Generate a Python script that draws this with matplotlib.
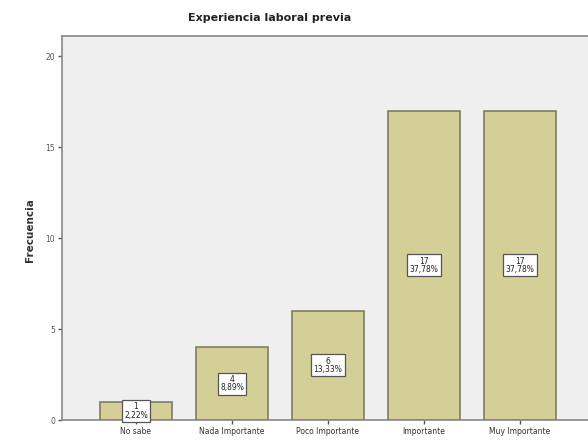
import matplotlib
matplotlib.use("Agg")
import matplotlib.pyplot as plt

categorias = ['No sabe', 'Nada Importante', 'Poco Importante', 'Importante', 'Muy Importante']
frecuencias = [1, 4, 6, 17, 17]
porcentajes = ['2,22%', '8,89%', '13,33%', '37,78%', '37,78%']
yticks = [0, 5, 10, 15, 20]

fig = plt.figure(figsize=(5.88, 4.44), dpi=100)
fig.patch.set_facecolor('white')
ax = fig.add_axes([62/588, 24/444, 532/588, 384/444])
ax.set_facecolor('#efefef')

x = list(range(len(categorias)))
ax.bar(x, frecuencias, width=0.75, color='#d4cf97', edgecolor='#7d7d66', linewidth=1.2, zorder=2)

for xi, f, p in zip(x, frecuencias, porcentajes):
    ax.text(xi, f / 2, f"{f}\n{p}", ha='center', va='center', fontsize=5.5,
            linespacing=0.9, color='#222222', zorder=3,
            bbox=dict(boxstyle='square,pad=0.3', facecolor='white', edgecolor='#555555', linewidth=0.9))

ax.set_xlim(-0.77, 4.77)
ax.set_ylim(0, 21.1)
ax.set_xticks(x)
ax.set_xticklabels(categorias, fontsize=5.5, color='#333333')
ax.set_yticks(yticks)
ax.set_yticklabels([str(t) for t in yticks], fontsize=5.5, color='#555555')
ax.tick_params(axis='both', length=3, width=1, color='#555555', pad=2)

for s in ['left', 'bottom', 'top']:
    ax.spines[s].set_color('#888888')
    ax.spines[s].set_linewidth(1.2)
ax.spines['right'].set_visible(False)

fig.text(270/588, 1 - 18/444, 'Experiencia laboral previa', ha='center', va='center',
         fontsize=8, fontweight='bold', color='#222222')
fig.text(30/588, 1 - 230/444, 'Frecuencia', ha='center', va='center', rotation=90,
         fontsize=7.5, fontweight='bold', color='#333333')

fig.savefig('out.png', dpi=100)
